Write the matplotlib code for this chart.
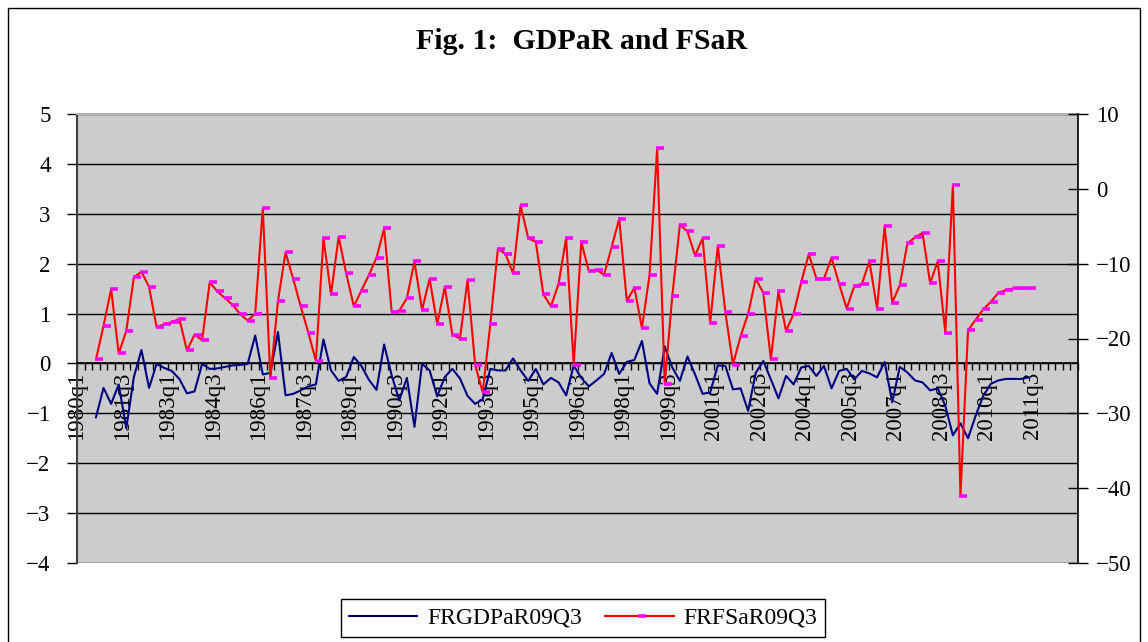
import numpy as np
import matplotlib.pyplot as plt
from matplotlib.path import Path
from matplotlib.patches import Rectangle
from matplotlib.transforms import ScaledTranslation

plt.rcParams['font.family'] = ['Liberation Serif', 'DejaVu Serif']

# category axis: 1980q1 .. 2012q4, labelled every 6 quarters
QUARTERS = [f"{y}q{q}" for y in range(1980, 2013) for q in range(1, 5)]
LABEL_STEP = 6
START = "1980q3"

# FRGDPaR09Q3 (left axis)
GDPAR = [-1.08, -0.49, -0.81, -0.42, -1.30, -0.27, 0.27, -0.49, -0.01, -0.09,
         -0.15, -0.31, -0.60, -0.56, -0.01, -0.11, -0.10, -0.07, -0.04, -0.03,
         -0.01, 0.56, -0.22, -0.19, 0.63, -0.64, -0.61, -0.54, -0.46, -0.42,
         0.48, -0.14, -0.35, -0.27, 0.13, -0.05, -0.33, -0.53, 0.38, -0.24,
         -0.74, -0.29, -1.27, -0.01, -0.14, -0.66, -0.27, -0.11, -0.30, -0.65,
         -0.81, -0.72, -0.11, -0.14, -0.14, 0.10, -0.14, -0.35, -0.11, -0.42,
         -0.29, -0.38, -0.64, -0.04, -0.29, -0.46, -0.34, -0.21, 0.21, -0.21,
         0.03, 0.07, 0.45, -0.40, -0.61, 0.34, -0.08, -0.35, 0.14, -0.22,
         -0.61, -0.58, -0.04, -0.05, -0.52, -0.50, -0.95, -0.19, 0.05, -0.32,
         -0.70, -0.25, -0.42, -0.08, -0.05, -0.25, -0.05, -0.50, -0.15, -0.11,
         -0.32, -0.15, -0.20, -0.28, 0.03, -0.78, -0.07, -0.18, -0.34, -0.38,
         -0.54, -0.50, -0.85, -1.44, -1.20, -1.50, -1.05, -0.65, -0.41, -0.34,
         -0.31, -0.31, -0.31, -0.28]

# FRFSaR09Q3 (right axis)
FSAR = [-22.8, -18.3, -13.4, -22.0, -19.0, -11.8, -11.1, -13.1, -18.5, -18.1,
        -17.8, -17.4, -21.6, -19.5, -20.2, -12.5, -13.7, -14.6, -15.5, -16.7,
        -17.6, -16.7, -2.6, -25.3, -15.0, -8.5, -12.0, -15.7, -19.2, -23.0,
        -6.6, -14.1, -6.4, -11.3, -15.7, -13.6, -11.5, -9.2, -5.3, -16.5,
        -16.3, -14.6, -9.7, -16.2, -12.0, -18.1, -13.1, -19.5, -20.0, -12.2,
        -23.5, -27.2, -18.1, -8.0, -8.7, -11.3, -2.2, -6.6, -7.1, -14.1,
        -15.7, -12.7, -6.6, -23.5, -7.1, -11.0, -10.8, -11.5, -7.8, -4.0,
        -15.0, -13.2, -18.6, -11.5, 5.4, -26.1, -14.3, -4.8, -5.7, -8.9,
        -6.6, -17.9, -7.6, -16.5, -23.5, -19.7, -16.7, -12.0, -13.9, -22.8,
        -13.7, -19.0, -16.7, -12.5, -8.7, -12.0, -12.0, -9.2, -12.7, -16.0,
        -13.0, -12.7, -9.7, -16.0, -5.0, -15.2, -12.9, -7.3, -6.5, -5.9,
        -12.6, -9.7, -19.2, 0.5, -41.0, -18.9, -17.5, -16.1, -15.1, -13.9,
        -13.5, -13.3, -13.3, -13.3]

LEFT_TICKS = np.arange(-4, 6, 1)
RIGHT_TICKS = np.arange(-50, 11, 10)

W, H = 1148, 642
fig = plt.figure(figsize=(W / 100, H / 100), dpi=100)
ax = fig.add_axes([77 / W, 1 - 563 / H, (1078 - 77) / W, (563 - 114) / H])
ax.set_facecolor('#CCCCCC')

i0 = QUARTERS.index(START)
x = np.arange(i0, i0 + len(GDPAR))

ax.plot(x, GDPAR, color='#000080', lw=1.5, zorder=3, label='FRGDPaR09Q3')
ax.set_xlim(-0.5, len(QUARTERS) - 0.5)
ax.set_ylim(LEFT_TICKS[0], LEFT_TICKS[-1])
ax.set_yticks(LEFT_TICKS)
ax.grid(axis='y', color='black', lw=1)
ax.tick_params(axis='y', direction='out', length=7, width=1, labelsize=16.5, pad=12)

# x axis crosses at 0
ax.spines['bottom'].set_position(('data', 0))
ax.spines['bottom'].set_linewidth(1.2)
ax.spines['top'].set_color('#B4B4B4')
ax.spines['top'].set_linewidth(1.5)
ax.spines['right'].set_visible(False)
ax.spines['left'].set_color('#404040')
ax.spines['left'].set_linewidth(1.5)

ax.set_xticks(np.arange(0, len(QUARTERS), LABEL_STEP))
ax.set_xticklabels(QUARTERS[::LABEL_STEP], rotation=90, fontsize=16.5)
ax.set_xticks(np.arange(-0.5, len(QUARTERS), 1), minor=True)
ax.tick_params(axis='x', which='major', length=0, pad=6)
ax.tick_params(axis='x', which='minor', direction='out', length=5, width=1)
shift = ScaledTranslation(-4 / 100, 0, fig.dpi_scale_trans)
for lab in ax.get_xticklabels():
    lab.set_transform(lab.get_transform() + shift)

ax2 = ax.twinx()
dash = Path([(-0.15, 0), (1, 0)], [Path.MOVETO, Path.LINETO])
ax2.plot(x, FSAR, color='#FF0000', lw=1.5, marker=dash, ms=10,
         mec='#FF00FF', mfc='none', mew=2.6, label='FRFSaR09Q3')
ax2.set_ylim(RIGHT_TICKS[0], RIGHT_TICKS[-1])
ax2.set_yticks(RIGHT_TICKS)
ax2.tick_params(axis='y', direction='inout', length=14, width=1, labelsize=16.5, pad=6)
for s in ['top', 'bottom', 'left']:
    ax2.spines[s].set_visible(False)
ax2.spines['right'].set_linewidth(1.2)

fig.text(0.507, 0.935, 'Fig. 1:  GDPaR and FSaR', ha='center', va='center',
         fontsize=21.5, fontweight='bold')

h1, l1 = ax.get_legend_handles_labels()
h2, l2 = ax2.get_legend_handles_labels()
fig.legend(h1 + h2, l1 + l2, loc='center', bbox_to_anchor=(583 / W, 1 - 618 / H),
           ncol=2, fontsize=17, frameon=True, fancybox=False, edgecolor='black',
           framealpha=1, handlelength=2.9, handletextpad=0.4, columnspacing=1.0,
           borderpad=0.35, borderaxespad=0.3)

fig.add_artist(Rectangle((8 / W, -0.01), (1140 - 8) / W, 1 - 8 / H + 0.01,
                         transform=fig.transFigure, fill=False, ec='black', lw=1))

fig.savefig('out.png', dpi=100, facecolor='white')
